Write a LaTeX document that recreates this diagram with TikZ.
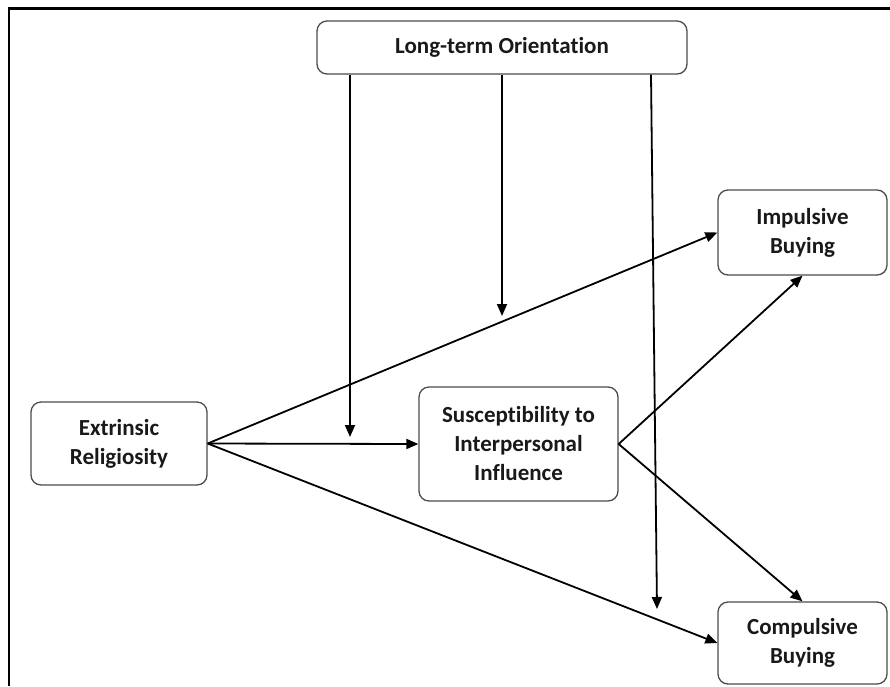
\documentclass[tikz,border=0pt]{standalone}
\usepackage{fontspec}
\setmainfont{Carlito}[Ligatures=NoCommon]
\usetikzlibrary{arrows.meta}

\begin{document}
\begin{tikzpicture}[x=1pt,y=-1pt,
    box/.style={draw=black!70,line width=1.3pt,rounded corners=10pt,align=center,
        inner sep=0pt,font=\fontsize{23}{29}\selectfont\bfseries,text=black!90},
    arr/.style={line width=1.8pt,-{Triangle[length=12pt,width=10pt]}}]
    \useasboundingbox (0,0) rectangle (890,686);
    \draw[line width=2.5pt] (9,686) -- (9,8.5) -- (890,8.5);
    \node[box,minimum width=370pt,minimum height=53pt] (lto) at (502,47.5) {Long-term Orientation};
    \node[box,minimum width=176pt,minimum height=83pt] (er) at (119,443.5) {Extrinsic\\Religiosity};
    \node[box,minimum width=199pt,minimum height=114pt] (sii) at (518.5,444) {Susceptibility to\\Interpersonal\\Influence};
    \node[box,minimum width=169pt,minimum height=85pt] (ib) at (802.5,232.5) {Impulsive\\Buying};
    \node[box,minimum width=169pt,minimum height=82pt] (cb) at (802.5,643) {Compulsive\\Buying};
    \draw[arr] (er.east) -- (ib.west);
    \draw[arr] (er.east) -- (sii.west);
    \draw[arr] (er.east) -- (cb.west);
    \draw[arr] (sii.east) -- (ib.south);
    \draw[arr] (sii.east) -- (cb.north);
    \coordinate (m1) at (350,437);
    \coordinate (m2) at (502,316);
    \coordinate (m3) at (657,609);
    \draw[arr] (lto.south -| m1) -- (m1);
    \draw[arr] (lto.south -| m2) -- (m2);
    \draw[arr] ([xshift=-6pt]lto.south -| m3) -- (m3);
\end{tikzpicture}
\end{document}
